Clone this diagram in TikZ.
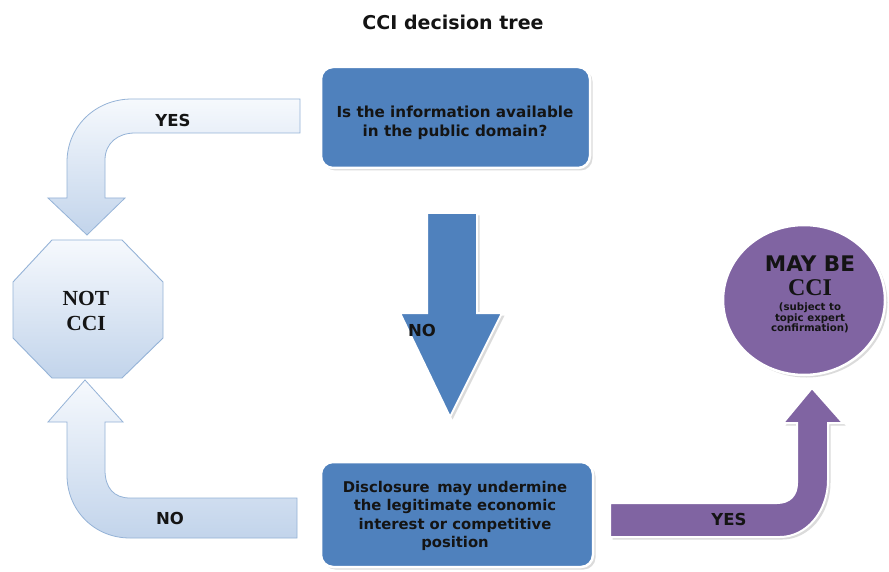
\documentclass[tikz,border=0pt]{standalone}
\usepackage{fontspec}
\setmainfont{DejaVu Sans}
\newfontfamily\serifbf{Liberation Serif}
\usetikzlibrary{shapes.geometric,shadows}
\definecolor{boxblue}{HTML}{4F81BD}
\definecolor{purp}{HTML}{8064A2}
\definecolor{lightedge}{HTML}{95B3D7}
\definecolor{lighttop}{HTML}{F6F9FD}
\definecolor{lightbot}{HTML}{C2D4EB}
\definecolor{txt}{HTML}{141414}
\tikzset{
  softshadow/.style={drop shadow={shadow xshift=2.5pt,shadow yshift=-2.5pt,fill=black!28}},
  qbox/.style={rectangle,rounded corners=12pt,fill=boxblue,draw=white,line width=2.5pt,softshadow},
  qtext/.style={text=txt,font=\fontsize{15.2}{19.5}\selectfont\bfseries,align=center,inner sep=0pt},
  lightarrow/.style={draw=lightedge,line width=0.8pt,top color=lighttop,bottom color=lightbot},
  bluearrow/.style={fill=boxblue,draw=white,line width=2pt,softshadow},
  purparrow/.style={fill=purp,draw=white,line width=2pt,softshadow},
  lbl/.style={text=txt,font=\fontsize{16.5}{18}\selectfont\bfseries,inner sep=0pt},
}
\begin{document}
\begin{tikzpicture}[x=1pt,y=-1pt]
\useasboundingbox (0,0) rectangle (889,572);
\fill[white] (0,0) rectangle (889,572);

% title
\node[text=txt,font=\fontsize{19}{22}\selectfont\bfseries,inner sep=0pt] (title) at (453,22) {CCI decision tree};

% question boxes
\node[qbox,minimum width=269pt,minimum height=101pt] (q1) at (455.5,117.5) {};
\node[qtext] (q1t) at (455,123) {Is the information available\\in the public domain?};
\node[qbox,minimum width=272pt,minimum height=105pt] (q2) at (457,514.5) {};
\node[qtext,font=\fontsize{14.8}{18.3}\selectfont\bfseries] (q2t) at (455,516) {Disclosure\, may undermine\\the legitimate economic\\interest or competitive\\position};

% top-left YES arrow
\path[lightarrow] (300,99) -- (132,99) .. controls (95,99) and (67,127) .. (67,162)
  -- (67,198) -- (48,198) -- (87,235) -- (125,198) -- (105,198) -- (105,160)
  .. controls (105,143) and (118,133) .. (135,133) -- (300,133) -- cycle;
\node[lbl] (yes1) at (173,120) {YES};

% bottom-left NO arrow
\path[lightarrow] (85,380) -- (123,422) -- (105,422) -- (105,470)
  .. controls (105,488) and (114,498) .. (130,498) -- (297,498) -- (297,538)
  -- (130,538) .. controls (94,538) and (67,510) .. (67,475) -- (67,422) -- (48,422) -- cycle;
\node[lbl] (no1) at (170,518) {NO};

% octagon NOT CCI
\path[draw=lightedge,line width=0.9pt,top color=lighttop,bottom color=lightbot]
  (52,240) -- (122,240) -- (163,282) -- (163,338) -- (122,378) -- (52,378) -- (13,338) -- (13,282) -- cycle;
\node[text=txt,font=\fontsize{21.5}{25}\selectfont\serifbf\bfseries,align=center,inner sep=0pt] (notcci) at (86,311) {NOT\\CCI};

% down NO arrow
\path[bluearrow] (427,213) -- (477,213) -- (477,313) -- (502,313) -- (450,417) -- (400,313) -- (427,313) -- cycle;
\node[lbl] (no2) at (422,330) {NO};

% purple YES arrow
\path[purparrow] (610,503) -- (777,503) .. controls (790,503) and (797,495) .. (797,483)
  -- (797,423) -- (783,423) -- (812,388) -- (843,423) -- (828,423) -- (828,480)
  .. controls (828,512) and (806,537) .. (780,537) -- (610,537) -- cycle;
\node[lbl] (yes2) at (729,519) {YES};

% MAY BE CCI ellipse
\node[ellipse,fill=purp,draw=white,line width=2.5pt,minimum width=162pt,minimum height=150pt,softshadow] (maybe) at (804,300) {};
\node[text=txt,font=\fontsize{21.5}{24}\selectfont\bfseries,inner sep=0pt] (maybe1) at (810,264) {MAY BE};
\node[text=txt,font=\fontsize{24}{26}\selectfont\serifbf\bfseries,inner sep=0pt] (maybe2) at (810,288) {CCI};
\node[text=txt,font=\fontsize{10.2}{10.4}\selectfont\bfseries,align=center,inner sep=0pt] (maybe3) at (810,318) {(subject to\\topic expert\\confirmation)};
\end{tikzpicture}
\end{document}
